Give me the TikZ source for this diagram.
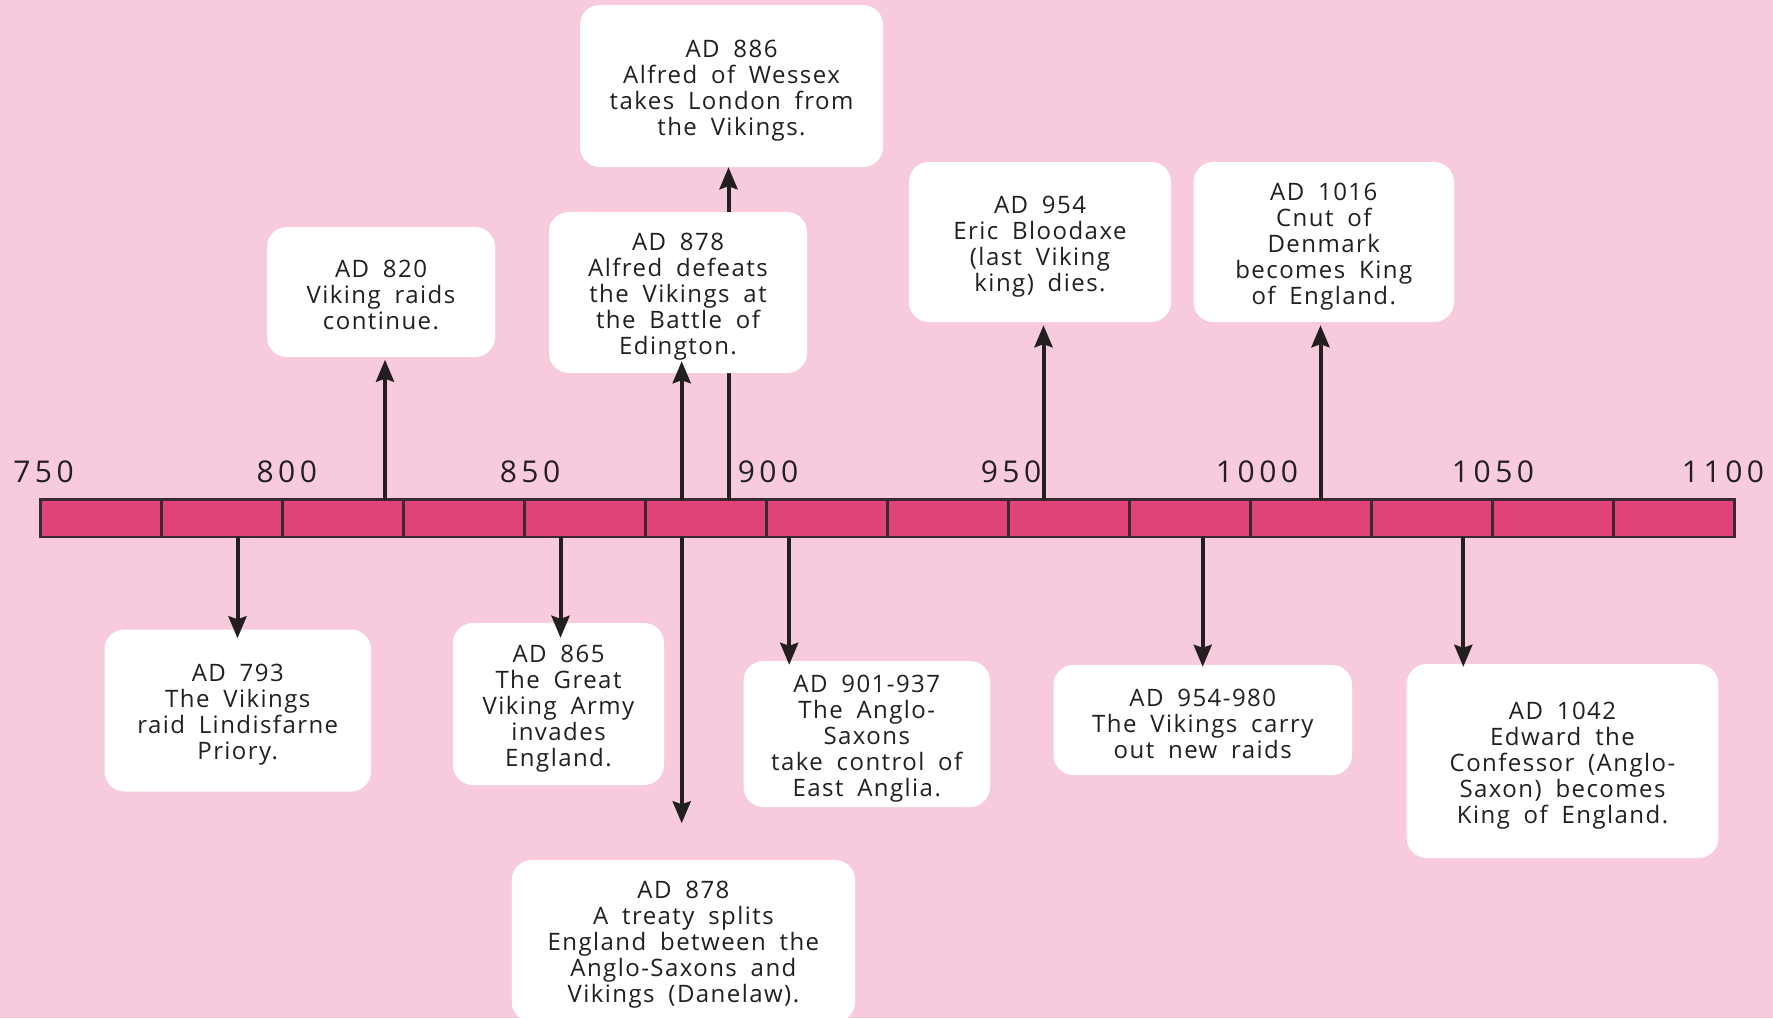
\documentclass[tikz,border=0pt]{standalone}
\usepackage{fontspec}
\setmainfont{Open Sans}[LetterSpace=6,WordSpace=1.8]
\newfontfamily\yearfont{Open Sans}[LetterSpace=15]
\usetikzlibrary{arrows.meta}
\definecolor{bgpink}{RGB}{247,203,221}
\definecolor{barpink}{RGB}{224,67,121}
\definecolor{ink}{RGB}{35,31,32}
\definecolor{barline}{RGB}{60,40,48}
\tikzset{
  eventbox/.style={rounded corners=20pt, fill=white, inner sep=0pt},
  eventtext/.style={inner sep=0pt, align=center, font=\fontsize{24}{26}\selectfont, text=ink},
  arr/.style={ink, line width=4pt, -{Stealth[length=22pt,width=18pt,inset=3pt]}},
  yearlbl/.style={font=\yearfont\fontsize{30}{30}\selectfont, text=ink, inner sep=0pt, anchor=base},
  segbox/.style={fill=barpink, draw=barline, line width=2.5pt},
}
\begin{document}
\begin{tikzpicture}[x=1pt,y=-1pt]
\useasboundingbox (0,0) rectangle (1773,1018);
\fill[bgpink] (0,0) rectangle (1773,1018);

% timeline bar
\foreach \k in {0,...,13}{
  \draw[segbox] ({40.7+121*\k},499.5) rectangle ({40.7+121*(\k+1)},537);
}

% year labels
\node[yearlbl] (y750)  at (43.5,482.7) {750};
\node[yearlbl] (y800)  at (286.8,482.7) {800};
\node[yearlbl] (y850)  at (530,482.7) {850};
\node[yearlbl] (y900)  at (768,482.7) {900};
\node[yearlbl] (y950)  at (1011,482.7) {950};
\node[yearlbl] (y1000) at (1257,482.7) {1000};
\node[yearlbl] (y1050) at (1493,482.7) {1050};
\node[yearlbl] (y1100) at (1723,482.7) {1100};

% anchor points on the bar
\coordinate (t820) at (385,499.5);
\coordinate (t878) at (681.7,499.5);
\coordinate (t886) at (728.5,499.5);
\coordinate (t954) at (1043.5,499.5);
\coordinate (t1016) at (1320.5,499.5);
\coordinate (d793) at (237.5,537);
\coordinate (d865) at (560.5,537);
\coordinate (d878) at (681.7,537);
\coordinate (d901) at (789.2,537);
\coordinate (d954) at (1202.7,537);
\coordinate (d1042) at (1463.3,537);
\coordinate (e878) at (681.7,823.3);

% upper boxes
\node[eventbox, minimum width=303pt, minimum height=162pt] (b886) at (731.5,86) {};
\node[eventtext] (x886) at ([yshift=-4.5pt]b886.center)
  {AD 886\\Alfred of Wessex\\takes London from\\the Vikings.};
\draw[arr] (t886) -- (t886 |- b886.south);
\node[eventbox, minimum width=258pt, minimum height=161pt] (b878a) at (678,292.5) {};
\node[eventtext] (x878a) at ([yshift=-4.5pt]b878a.center)
  {AD 878\\Alfred defeats\\the Vikings at\\the Battle of\\Edington.};
\node[eventbox, minimum width=228pt, minimum height=130pt] (b820) at (381,292) {};
\node[eventtext] (x820) at ([yshift=-3pt]b820.center)
  {AD 820\\Viking raids\\continue.};
\node[eventbox, minimum width=262pt, minimum height=160pt] (b954) at (1040,242) {};
\node[eventtext] (x954) at ([yshift=-4.5pt]b954.center)
  {AD 954\\Eric Bloodaxe\\(last Viking\\king) dies.};
\node[eventbox, minimum width=260.5pt, minimum height=160pt] (b1016) at (1323.75,242) {};
\node[eventtext] (x1016) at ([yshift=-4.5pt]b1016.center)
  {AD 1016\\Cnut of\\Denmark\\becomes King\\of England.};

% lower boxes
\node[eventbox, minimum width=266.5pt, minimum height=162pt] (b793) at (237.75,710.5) {};
\node[eventtext] (x793) at ([yshift=-4.5pt]b793.center)
  {AD 793\\The Vikings\\raid Lindisfarne\\Priory.};
\node[eventbox, minimum width=211pt, minimum height=162pt] (b865) at (558.5,704) {};
\node[eventtext] (x865) at ([yshift=-4.5pt]b865.center)
  {AD 865\\The Great\\Viking Army\\invades\\England.};
\node[eventbox, minimum width=246.5pt, minimum height=146pt] (b901) at (866.75,734) {};
\node[eventtext] (x901) at ([yshift=-4.5pt]b901.center)
  {AD 901-937\\The Anglo-\\Saxons\\take control of\\East Anglia.};
\node[eventbox, minimum width=298.5pt, minimum height=110pt] (b954b) at (1202.75,720) {};
\node[eventtext] (x954b) at ([yshift=-4pt]b954b.center)
  {AD 954-980\\The Vikings carry\\out new raids};
\node[eventbox, minimum width=311.6pt, minimum height=194pt] (b1042) at (1562.5,761) {};
\node[eventtext] (x1042) at ([yshift=-5pt]b1042.center)
  {AD 1042\\Edward the\\Confessor (Anglo-\\Saxon) becomes\\King of England.};
\node[eventbox, minimum width=343.3pt, minimum height=162pt] (b878b) at (683.4,941) {};
\node[eventtext] (x878b) at ([yshift=-4pt]b878b.center)
  {AD 878\\A treaty splits\\England between the\\Anglo-Saxons and\\Vikings (Danelaw).};

% arrows
\draw[arr, shorten >=2.5pt] (t820) -- (t820 |- b820.south);
\draw[arr] (t878) -- ([yshift=12pt]t878 |- b878a.south);
\draw[arr, shorten >=3pt] (t954) -- (t954 |- b954.south);
\draw[arr, shorten >=3pt] (t1016) -- (t1016 |- b1016.south);
\draw[arr] (d793) -- ([yshift=-9pt]d793 |- b793.north);
\draw[arr] (d865) -- ([yshift=-15pt]d865 |- b865.north);
\draw[arr] (d878) -- (e878);
\draw[arr] (d901) -- ([yshift=-4pt]d901 |- b901.north);
\draw[arr] (d954) -- ([yshift=-2pt]d954 |- b954b.north);
\draw[arr] (d1042) -- ([yshift=-3pt]d1042 |- b1042.north);
\end{tikzpicture}
\end{document}
